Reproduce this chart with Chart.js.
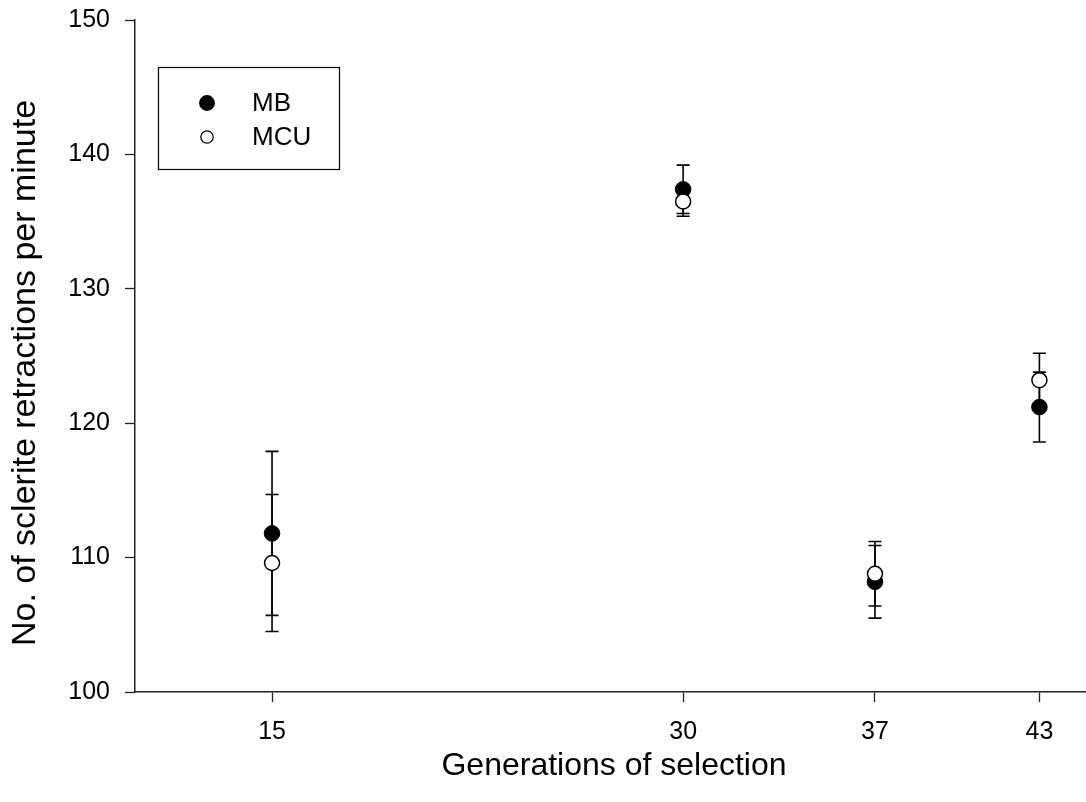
<!doctype html>
<html>
<head>
    <title>Sclerite retractions</title>
    <script src="https://cdn.jsdelivr.net/npm/chart.js@4/dist/chart.umd.min.js"></script>
    <style>
        body { margin: 0; background: #fff; }
        #canvas { display: block; }
    </style>
</head>
<body>
    <canvas id="canvas" width="1086" height="802"></canvas>
    <script>
        // generations and the two selection lines (mean and error)
        var gens = [15, 30, 37, 43];
        var mbMean = [111.8, 137.4, 108.2, 121.2];
        var mbErr = [6.1, 1.8, 2.7, 2.6];
        var mcuMean = [109.6, 136.5, 108.8, 123.2];
        var mcuErr = [5.1, 1.1, 2.4, 2.0];
        var yTicks = [100, 110, 120, 130, 140, 150];

        var FONT = '"Liberation Sans", Arial, sans-serif';

        function toPoints(xs, ys) {
            var pts = [];
            for (var i = 0; i < xs.length; i++) {
                pts.push({ x: xs[i], y: ys[i] });
            }
            return pts;
        }

        // vertical error bars with caps, drawn under the markers
        var errorBars = {
            id: 'errorBars',
            beforeDatasetsDraw: function (chart) {
                var ctx = chart.ctx;
                var xs = chart.scales.x, ys = chart.scales.y;
                ctx.save();
                ctx.strokeStyle = '#000';
                ctx.lineWidth = 1.6;
                chart.data.datasets.forEach(function (ds) {
                    ds.data.forEach(function (p, i) {
                        var e = ds.errors[i];
                        var x = xs.getPixelForValue(p.x);
                        var yTop = ys.getPixelForValue(p.y + e);
                        var yBot = ys.getPixelForValue(p.y - e);
                        ctx.beginPath();
                        ctx.moveTo(x, yTop);
                        ctx.lineTo(x, yBot);
                        ctx.moveTo(x - 6.5, yTop);
                        ctx.lineTo(x + 6.5, yTop);
                        ctx.moveTo(x - 6.5, yBot);
                        ctx.lineTo(x + 6.5, yBot);
                        ctx.stroke();
                    });
                });
                ctx.restore();
            }
        };

        // boxed legend in the upper left and the two axis titles
        var decorations = {
            id: 'decorations',
            afterDraw: function (chart) {
                var ctx = chart.ctx;
                ctx.save();

                ctx.strokeStyle = '#000';
                ctx.lineWidth = 1.2;
                ctx.strokeRect(158.5, 67.5, 181, 102);

                ctx.font = '26px ' + FONT;
                ctx.textBaseline = 'middle';
                ctx.textAlign = 'left';
                chart.data.datasets.forEach(function (ds, i) {
                    var cy = 103 + i * 34;
                    ctx.beginPath();
                    ctx.arc(207, cy, i === 0 ? 7.3 : 6.2, 0, Math.PI * 2);
                    ctx.fillStyle = ds.backgroundColor;
                    ctx.fill();
                    ctx.lineWidth = 1.3;
                    ctx.strokeStyle = '#000';
                    ctx.stroke();
                    ctx.fillStyle = '#000';
                    ctx.fillText(ds.label, 252, cy + 1);
                });

                ctx.font = '32px ' + FONT;
                ctx.textAlign = 'center';
                ctx.fillText('Generations of selection', 614, 766);

                ctx.font = '34px ' + FONT;
                ctx.translate(26, 373);
                ctx.rotate(-Math.PI / 2);
                ctx.fillText('No. of sclerite retractions per minute', 0, 0);
                ctx.restore();
            }
        };

        var ctx = document.getElementById('canvas').getContext('2d');
        var chart = new Chart(ctx, {
            type: 'scatter',
            data: {
                datasets: [{
                    label: 'MB',
                    data: toPoints(gens, mbMean),
                    errors: mbErr,
                    backgroundColor: '#000',
                    borderColor: '#000',
                    borderWidth: 1,
                    pointRadius: 7.8,
                    pointHoverRadius: 7.8,
                    order: 2
                }, {
                    label: 'MCU',
                    data: toPoints(gens, mcuMean),
                    errors: mcuErr,
                    backgroundColor: '#fff',
                    borderColor: '#000',
                    borderWidth: 1.5,
                    pointRadius: 7.5,
                    pointHoverRadius: 7.5,
                    order: 1
                }]
            },
            options: {
                responsive: false,
                animation: false,
                layout: {
                    autoPadding: false,
                    padding: { top: 20, right: 0, left: 0, bottom: 0 }
                },
                plugins: {
                    legend: { display: false },
                    tooltip: { enabled: false }
                },
                scales: {
                    x: {
                        type: 'linear',
                        min: 10,
                        max: 44.7,
                        afterBuildTicks: function (scale) {
                            scale.ticks = gens.map(function (g) { return { value: g }; });
                        },
                        afterFit: function (scale) {
                            scale.height = 110;
                            scale.paddingLeft = 0;
                            scale.paddingRight = 0;
                        },
                        grid: {
                            drawOnChartArea: false,
                            drawTicks: true,
                            tickLength: 10,
                            tickWidth: 1.3,
                            tickColor: '#222'
                        },
                        border: { display: true, color: '#222', width: 1.5 },
                        ticks: {
                            color: '#000',
                            padding: 15,
                            font: { family: FONT, size: 25 },
                            maxRotation: 0
                        }
                    },
                    y: {
                        type: 'linear',
                        min: 100,
                        max: 150,
                        afterBuildTicks: function (scale) {
                            scale.ticks = yTicks.map(function (v) { return { value: v }; });
                        },
                        afterFit: function (scale) {
                            scale.width = 135;
                            scale.paddingTop = 0;
                            scale.paddingBottom = 0;
                        },
                        grid: {
                            drawOnChartArea: false,
                            drawTicks: true,
                            tickLength: 10,
                            tickWidth: 1.3,
                            tickColor: '#222'
                        },
                        border: { display: true, color: '#222', width: 1.5 },
                        ticks: {
                            color: '#000',
                            padding: 15,
                            font: { family: FONT, size: 25 }
                        }
                    }
                }
            },
            plugins: [errorBars, decorations]
        });
    </script>
</body>
</html>
